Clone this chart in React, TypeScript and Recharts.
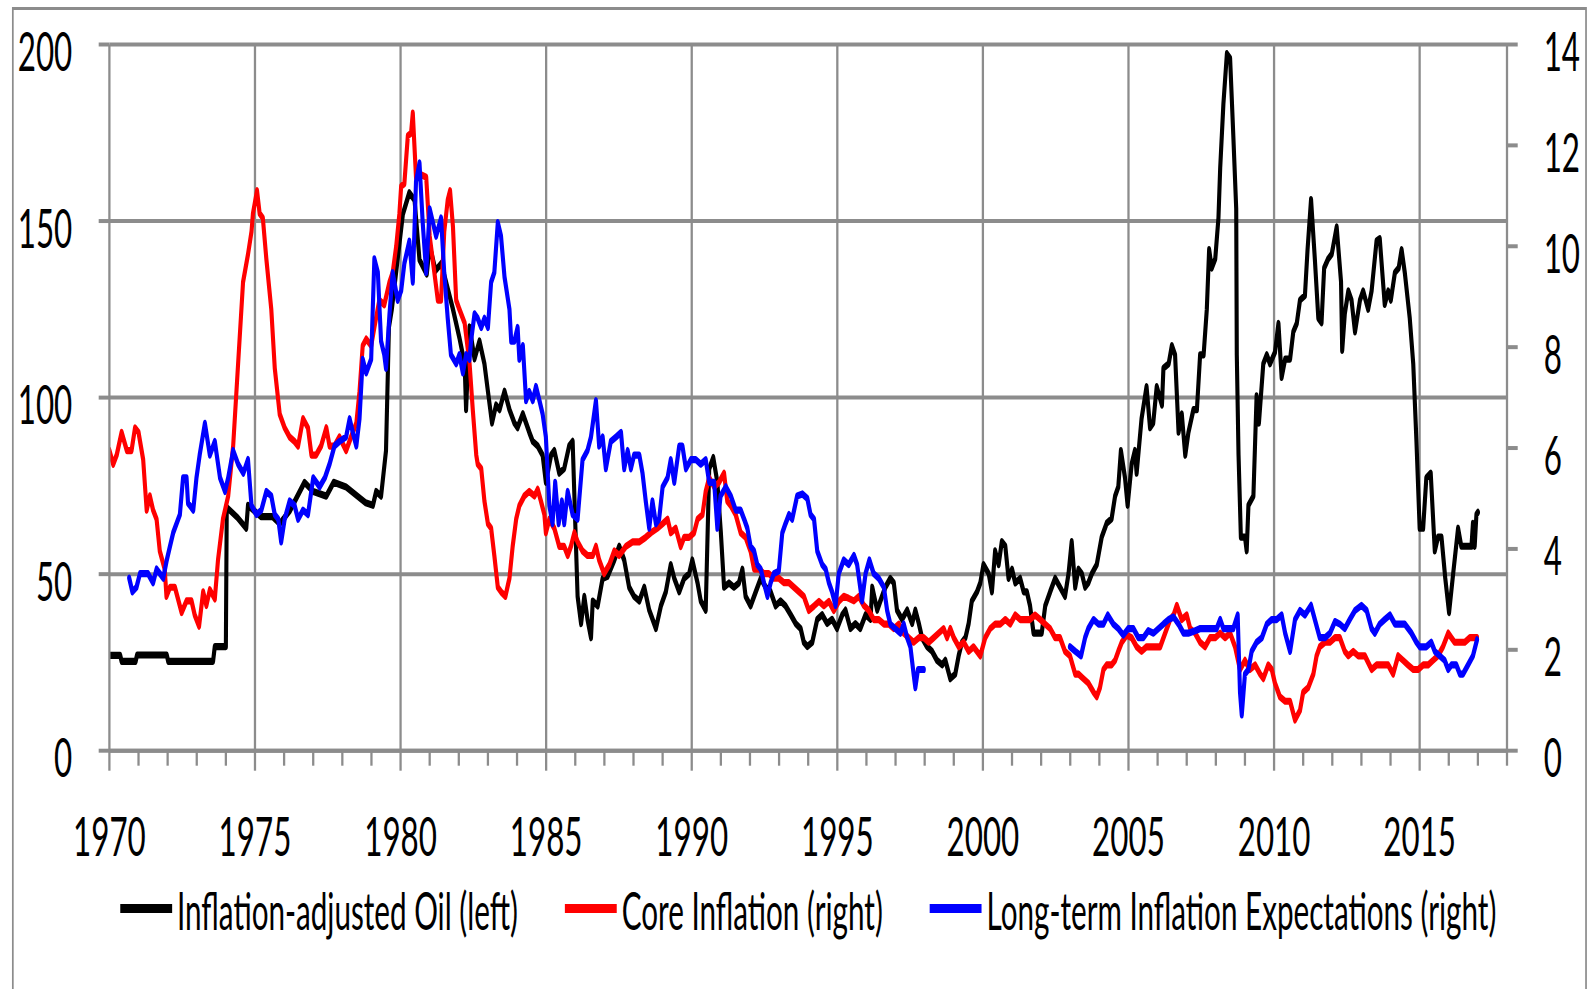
import React from "react";
import { LineChart, Line, XAxis, YAxis, CartesianGrid, ReferenceLine } from "recharts";

// the source picture is squeezed horizontally, so the chart is drawn wider and scaled back
const S = 0.57;
const W = 1589;
const H = 989;
const WT = W / S;
const GRID = "#8c8c8c";
const GRID_W = 4;
const FONT = "Lato, 'Open Sans', sans-serif";

const majorYears = [1975, 1980, 1985, 1990, 1995, 2000, 2005, 2010, 2015];
const yearTicks = Array.from({ length: 49 }, (_, i) => 1970 + i);
const leftTicks = [0, 50, 100, 150, 200];
const rightTicks = [0, 2, 4, 6, 8, 10, 12, 14];

// inflation-adjusted oil price, left axis
const oil: [number, number][] = [
  [1970.0, 27], [1970.37, 27], [1970.42, 25.3], [1970.9, 25.3], [1970.95, 27.1], [1971.97, 27.1],
  [1972.02, 25.3], [1973.56, 25.3], [1973.62, 29.5], [1974.0, 29.5], [1974.03, 68.9], [1974.4, 66],
  [1974.7, 63], [1974.76, 69.5], [1975.2, 66.3], [1975.6, 66.3], [1975.85, 64.3], [1976.2, 68],
  [1976.7, 76], [1977.0, 73.4], [1977.45, 72.1], [1977.7, 76], [1978.13, 74.7], [1978.8, 70.2],
  [1979.05, 69.5], [1979.16, 73.4], [1979.33, 72.1], [1979.5, 85], [1979.6, 119.9], [1979.7, 125],
  [1980.08, 152], [1980.3, 158], [1980.48, 156], [1980.65, 139], [1980.9, 135], [1981.0, 143],
  [1981.2, 136], [1981.4, 138], [1981.6, 131.5], [1981.8, 125], [1982.02, 117], [1982.2, 109.6],
  [1982.25, 96.6], [1982.37, 120], [1982.54, 111], [1982.71, 116], [1982.88, 109.6], [1983.0, 101.8],
  [1983.14, 92.8], [1983.28, 97.9], [1983.4, 96.6], [1983.57, 101.8], [1983.74, 96.6], [1983.91, 92.8],
  [1984.02, 91.5], [1984.2, 95.4], [1984.42, 90.2], [1984.54, 87.6], [1984.71, 86.3], [1984.88, 83.7],
  [1984.99, 76], [1985.17, 83.7], [1985.28, 85], [1985.45, 78.6], [1985.62, 79.9], [1985.79, 86.3],
  [1985.91, 87.6], [1986.08, 43.7], [1986.2, 36], [1986.31, 43.7], [1986.42, 37.2], [1986.54, 32],
  [1986.6, 42.4], [1986.77, 41], [1986.94, 48.8], [1987.11, 49.4], [1987.34, 54], [1987.51, 57.9],
  [1987.68, 54], [1987.85, 46.3], [1988.02, 43.7], [1988.2, 42.4], [1988.37, 46.3], [1988.54, 39.8],
  [1988.77, 34.6], [1988.94, 41], [1989.11, 45], [1989.28, 52.7], [1989.4, 48.8], [1989.57, 45],
  [1989.74, 48.8], [1989.91, 50.1], [1990.02, 54], [1990.2, 47.5], [1990.31, 42.4], [1990.48, 39.8],
  [1990.6, 79.8], [1990.74, 83], [1990.88, 76], [1991.0, 61.8], [1991.11, 46.3], [1991.28, 47.5],
  [1991.45, 46.3], [1991.62, 47.5], [1991.74, 51.4], [1991.85, 43.7], [1992.02, 41], [1992.2, 45],
  [1992.37, 48.8], [1992.54, 46.3], [1992.71, 45], [1992.88, 41], [1993.05, 42.4], [1993.22, 41],
  [1993.4, 38.5], [1993.57, 36], [1993.74, 34.6], [1993.85, 30.7], [1993.97, 29.5], [1994.14, 30.7],
  [1994.31, 37.2], [1994.48, 38.5], [1994.65, 36], [1994.82, 37.2], [1994.99, 34.6], [1995.17, 38.5],
  [1995.28, 39.8], [1995.45, 34.6], [1995.62, 36], [1995.79, 34.6], [1995.97, 38.5], [1996.14, 37.2],
  [1996.2, 46.3], [1996.37, 39.8], [1996.48, 42.4], [1996.65, 46.3], [1996.82, 48.8], [1996.94, 47.5],
  [1997.05, 39.8], [1997.22, 37.2], [1997.4, 39.8], [1997.57, 36], [1997.68, 39.8], [1997.8, 36],
  [1997.91, 32], [1998.08, 29.5], [1998.25, 28.2], [1998.42, 25.6], [1998.6, 24.3], [1998.71, 25.6],
  [1998.88, 20.4], [1999.05, 21.7], [1999.17, 27], [1999.28, 30.7], [1999.4, 32], [1999.51, 36],
  [1999.62, 42.4], [1999.8, 45], [1999.91, 47.5], [2000.02, 52.7], [2000.2, 50.1], [2000.31, 45],
  [2000.42, 56.6], [2000.54, 52.7], [2000.65, 59.2], [2000.77, 57.9], [2000.88, 48.8], [2001.0, 51.4],
  [2001.11, 47.5], [2001.28, 48.8], [2001.4, 45], [2001.51, 45], [2001.62, 41], [2001.74, 33.3],
  [2002.02, 33.3], [2002.14, 41], [2002.31, 45], [2002.48, 48.8], [2002.65, 46.3], [2002.82, 43.7],
  [2002.94, 50.1], [2003.05, 59.2], [2003.17, 46.3], [2003.28, 51.4], [2003.4, 50.1], [2003.51, 46.3],
  [2003.62, 47.5], [2003.74, 50.1], [2003.91, 52.7], [2004.08, 60.5], [2004.25, 64.4], [2004.42, 65.7],
  [2004.54, 72.1], [2004.65, 74.7], [2004.74, 85], [2004.88, 77.3], [2004.97, 69.5], [2005.11, 81.2],
  [2005.22, 85], [2005.28, 78.6], [2005.45, 94.1], [2005.62, 103.1], [2005.74, 91.5], [2005.85, 92.8],
  [2005.97, 103.1], [2006.15, 97.9], [2006.2, 108.3], [2006.38, 109.6], [2006.49, 114.7], [2006.6, 112.1],
  [2006.72, 90.2], [2006.83, 95.4], [2006.95, 83.7], [2007.06, 90.2], [2007.23, 96.6], [2007.35, 96.6],
  [2007.46, 112.1], [2007.58, 112.1], [2007.69, 125], [2007.77, 141.9], [2007.86, 136.7], [2007.98, 139.3],
  [2008.09, 150.9], [2008.15, 165.1], [2008.26, 183.2], [2008.38, 197.4], [2008.49, 196.1], [2008.6, 174.2],
  [2008.7, 153.5], [2008.72, 112.1], [2008.78, 83.7], [2008.86, 60.5], [2009.0, 60.5], [2009.06, 56.6],
  [2009.12, 69.5], [2009.29, 72.1], [2009.4, 100.5], [2009.48, 92.8], [2009.63, 109.6], [2009.75, 112.1],
  [2009.86, 109.6], [2010.03, 112.8], [2010.15, 121], [2010.26, 105.7], [2010.38, 110.9], [2010.55, 110.9],
  [2010.66, 118.6], [2010.78, 121], [2010.89, 127.6], [2011.06, 128.9], [2011.15, 141.9], [2011.27, 156.1],
  [2011.4, 139.3], [2011.52, 122.5], [2011.63, 121.2], [2011.72, 136.7], [2011.86, 139.3], [2011.98, 140.6],
  [2012.15, 148.3], [2012.3, 132.8], [2012.34, 113.4], [2012.43, 123.8], [2012.55, 130.2], [2012.66, 127.6],
  [2012.78, 118.6], [2012.95, 127.6], [2013.06, 130.2], [2013.23, 125], [2013.35, 130.2], [2013.52, 144.4],
  [2013.63, 145], [2013.8, 126.4], [2013.92, 130.2], [2014.01, 127.6], [2014.15, 135.4], [2014.28, 136.7],
  [2014.38, 141.9], [2014.49, 135.4], [2014.66, 122.5], [2014.78, 109.6], [2014.89, 87.6], [2015.0, 63],
  [2015.12, 63], [2015.23, 77.3], [2015.38, 78.6], [2015.52, 56.6], [2015.63, 60.5], [2015.75, 60.5],
  [2015.88, 48.8], [2016.01, 39.1], [2016.15, 50.1], [2016.32, 63], [2016.43, 57.9], [2016.6, 57.9],
  [2016.78, 57.9], [2016.83, 64.4], [2016.89, 57.9], [2016.95, 66.9], [2017.0, 67.5],
];

// core inflation, right axis
const core: [number, number][] = [
  [1970.0, 5.95], [1970.13, 5.68], [1970.25, 5.86], [1970.42, 6.31], [1970.6, 5.95], [1970.76, 5.95],
  [1970.88, 6.4], [1971.0, 6.31], [1971.16, 5.77], [1971.28, 4.77], [1971.39, 5.05], [1971.5, 4.77],
  [1971.62, 4.59], [1971.73, 3.96], [1971.9, 3.6], [1971.96, 3.06], [1972.08, 3.24], [1972.25, 3.24],
  [1972.48, 2.74], [1972.65, 2.97], [1972.82, 2.97], [1972.93, 2.69], [1973.08, 2.47], [1973.22, 3.15],
  [1973.33, 2.88], [1973.45, 3.19], [1973.62, 3.01], [1973.73, 3.78], [1973.9, 4.59], [1974.08, 5.05],
  [1974.25, 6.04], [1974.42, 7.67], [1974.59, 9.29], [1974.76, 9.84], [1974.88, 10.29], [1974.93, 10.65],
  [1975.07, 11.1], [1975.16, 10.65], [1975.27, 10.56], [1975.39, 9.75], [1975.56, 8.75], [1975.68, 7.58],
  [1975.85, 6.67], [1976.02, 6.4], [1976.19, 6.22], [1976.36, 6.13], [1976.48, 6.04], [1976.65, 6.58],
  [1976.82, 6.4], [1976.94, 5.86], [1977.1, 5.86], [1977.27, 6.04], [1977.45, 6.4], [1977.56, 6.04],
  [1977.73, 6.04], [1977.9, 6.22], [1978.13, 5.95], [1978.3, 6.22], [1978.48, 6.49], [1978.59, 7.12],
  [1978.7, 8.03], [1978.82, 8.16], [1978.99, 8.03], [1979.1, 8.39], [1979.27, 8.93], [1979.44, 8.84],
  [1979.62, 9.29], [1979.73, 9.48], [1979.85, 10.0], [1979.96, 10.65], [1980.02, 11.19], [1980.13, 11.24],
  [1980.25, 12.19], [1980.36, 12.24], [1980.42, 12.64], [1980.53, 11.37], [1980.7, 11.42], [1980.88, 11.37],
  [1981.0, 10.2], [1981.16, 9.48], [1981.28, 8.93], [1981.39, 8.93], [1981.5, 10.29], [1981.62, 10.92],
  [1981.7, 11.1], [1981.8, 10.38], [1981.91, 8.93], [1982.02, 8.75], [1982.2, 8.48], [1982.37, 7.67],
  [1982.48, 6.76], [1982.6, 5.86], [1982.65, 5.68], [1982.77, 5.59], [1982.88, 4.95], [1983.0, 4.5],
  [1983.11, 4.41], [1983.22, 3.87], [1983.34, 3.24], [1983.45, 3.15], [1983.6, 3.06], [1983.74, 3.42],
  [1983.85, 4.05], [1983.97, 4.59], [1984.08, 4.86], [1984.25, 5.05], [1984.42, 5.14], [1984.6, 5.05],
  [1984.71, 5.18], [1984.82, 4.95], [1984.94, 4.68], [1984.99, 4.32], [1985.11, 4.59], [1985.28, 4.41],
  [1985.45, 4.05], [1985.62, 4.05], [1985.74, 3.87], [1985.85, 4.05], [1985.97, 4.32], [1986.08, 4.14],
  [1986.25, 3.96], [1986.42, 3.87], [1986.6, 3.87], [1986.71, 4.05], [1986.82, 3.78], [1986.99, 3.51],
  [1987.17, 3.69], [1987.34, 3.96], [1987.51, 3.87], [1987.74, 4.05], [1987.97, 4.14], [1988.2, 4.14],
  [1988.42, 4.23], [1988.6, 4.32], [1988.82, 4.41], [1989.0, 4.5], [1989.17, 4.59], [1989.28, 4.32],
  [1989.45, 4.41], [1989.62, 4.05], [1989.74, 4.23], [1989.91, 4.23], [1990.08, 4.32], [1990.2, 4.59],
  [1990.37, 4.68], [1990.48, 5.14], [1990.6, 5.41], [1990.77, 5.23], [1990.94, 5.32], [1991.11, 5.5],
  [1991.22, 4.95], [1991.34, 4.86], [1991.51, 4.68], [1991.68, 4.32], [1991.85, 4.23], [1992.02, 3.96],
  [1992.14, 3.6], [1992.31, 3.6], [1992.48, 3.51], [1992.65, 3.51], [1992.82, 3.42], [1992.99, 3.42],
  [1993.17, 3.33], [1993.34, 3.33], [1993.51, 3.24], [1993.68, 3.15], [1993.85, 3.06], [1994.02, 2.78],
  [1994.2, 2.87], [1994.37, 2.96], [1994.54, 2.87], [1994.71, 2.96], [1994.88, 2.78], [1995.05, 2.96],
  [1995.22, 3.06], [1995.39, 3.02], [1995.57, 2.97], [1995.74, 3.06], [1995.91, 2.88], [1996.08, 2.78],
  [1996.25, 2.6], [1996.42, 2.6], [1996.6, 2.51], [1996.77, 2.51], [1996.94, 2.42], [1997.11, 2.51],
  [1997.28, 2.33], [1997.45, 2.24], [1997.62, 2.15], [1997.8, 2.24], [1997.97, 2.24], [1998.14, 2.15],
  [1998.31, 2.24], [1998.48, 2.33], [1998.65, 2.42], [1998.77, 2.24], [1998.88, 2.42], [1999.0, 2.24],
  [1999.17, 2.06], [1999.34, 2.15], [1999.51, 1.97], [1999.68, 2.06], [1999.91, 1.88], [2000.08, 2.24],
  [2000.25, 2.42], [2000.42, 2.51], [2000.6, 2.51], [2000.77, 2.6], [2000.94, 2.51], [2001.11, 2.69],
  [2001.28, 2.6], [2001.45, 2.6], [2001.62, 2.6], [2001.79, 2.69], [2001.97, 2.6], [2002.14, 2.51],
  [2002.31, 2.42], [2002.48, 2.24], [2002.65, 2.24], [2002.82, 1.97], [2002.99, 1.88], [2003.17, 1.52],
  [2003.28, 1.52], [2003.45, 1.43], [2003.62, 1.34], [2003.8, 1.16], [2003.91, 1.07], [2004.02, 1.25],
  [2004.14, 1.61], [2004.25, 1.7], [2004.42, 1.7], [2004.54, 1.79], [2004.65, 1.97], [2004.77, 2.15],
  [2004.94, 2.29], [2005.11, 2.24], [2005.28, 2.06], [2005.45, 1.97], [2005.62, 2.06], [2005.8, 2.06],
  [2006.09, 2.06], [2006.26, 2.33], [2006.43, 2.6], [2006.55, 2.69], [2006.66, 2.88], [2006.83, 2.6],
  [2007.0, 2.69], [2007.12, 2.42], [2007.29, 2.33], [2007.46, 2.15], [2007.63, 2.06], [2007.8, 2.24],
  [2007.98, 2.24], [2008.15, 2.33], [2008.32, 2.24], [2008.49, 2.33], [2008.66, 2.06], [2008.83, 1.61],
  [2009.0, 1.79], [2009.17, 1.61], [2009.35, 1.7], [2009.52, 1.52], [2009.63, 1.43], [2009.8, 1.7],
  [2009.92, 1.61], [2010.03, 1.34], [2010.2, 1.07], [2010.38, 0.98], [2010.55, 0.98], [2010.72, 0.61],
  [2010.89, 0.8], [2011.0, 1.16], [2011.17, 1.25], [2011.35, 1.52], [2011.46, 1.88], [2011.57, 2.06],
  [2011.75, 2.15], [2011.92, 2.15], [2012.09, 2.24], [2012.26, 2.24], [2012.43, 1.97], [2012.55, 1.88],
  [2012.72, 1.97], [2012.89, 1.88], [2013.12, 1.88], [2013.35, 1.61], [2013.52, 1.7], [2013.69, 1.7],
  [2013.92, 1.7], [2014.09, 1.52], [2014.26, 1.88], [2014.43, 1.79], [2014.6, 1.7], [2014.78, 1.61],
  [2014.95, 1.61], [2015.12, 1.7], [2015.29, 1.7], [2015.46, 1.79], [2015.63, 1.88], [2015.8, 2.06],
  [2015.98, 2.33], [2016.09, 2.24], [2016.2, 2.15], [2016.38, 2.15], [2016.55, 2.15], [2016.72, 2.24],
  [2016.89, 2.24], [2016.97, 2.24],
];

// long-term inflation expectations, right axis (no data 1998-2002)
const expect: [number, number | null][] = [
  [1970.68, 3.42], [1970.79, 3.15], [1970.93, 3.24], [1971.05, 3.51], [1971.33, 3.51], [1971.5, 3.33],
  [1971.62, 3.6], [1971.85, 3.42], [1971.97, 3.78], [1972.08, 4.05], [1972.19, 4.32], [1972.42, 4.68],
  [1972.53, 5.41], [1972.65, 5.41], [1972.7, 4.91], [1972.88, 4.77], [1972.99, 5.41], [1973.1, 5.86],
  [1973.28, 6.49], [1973.45, 5.86], [1973.62, 6.13], [1973.8, 5.41], [1973.97, 5.14], [1974.08, 5.41],
  [1974.25, 5.95], [1974.42, 5.68], [1974.6, 5.5], [1974.76, 5.77], [1974.88, 4.86], [1975.05, 4.68],
  [1975.22, 4.77], [1975.39, 5.14], [1975.56, 5.05], [1975.68, 4.68], [1975.8, 4.59], [1975.9, 4.14],
  [1976.02, 4.59], [1976.19, 4.95], [1976.36, 4.86], [1976.48, 4.59], [1976.65, 4.77], [1976.82, 4.68],
  [1977.0, 5.41], [1977.22, 5.23], [1977.4, 5.41], [1977.56, 5.68], [1977.73, 6.04], [1977.9, 6.13],
  [1978.13, 6.22], [1978.25, 6.58], [1978.36, 6.31], [1978.48, 6.04], [1978.59, 6.58], [1978.7, 7.76],
  [1978.82, 7.49], [1978.99, 7.76], [1979.1, 9.75], [1979.22, 9.48], [1979.33, 8.12], [1979.44, 7.85],
  [1979.5, 7.58], [1979.62, 8.66], [1979.73, 9.48], [1979.9, 8.93], [1980.02, 9.12], [1980.13, 9.66],
  [1980.3, 10.1], [1980.42, 9.29], [1980.53, 11.28], [1980.65, 11.65], [1980.76, 10.47], [1980.88, 9.48],
  [1981.0, 10.74], [1981.22, 10.2], [1981.39, 10.56], [1981.5, 9.48], [1981.62, 8.57], [1981.73, 7.85],
  [1981.91, 7.67], [1982.02, 7.85], [1982.14, 7.49], [1982.25, 7.85], [1982.37, 7.76], [1982.42, 8.12],
  [1982.54, 8.66], [1982.65, 8.57], [1982.77, 8.39], [1982.88, 8.57], [1983.0, 8.39], [1983.11, 9.29],
  [1983.22, 9.48], [1983.34, 10.47], [1983.45, 10.2], [1983.57, 9.39], [1983.74, 8.75], [1983.8, 8.12],
  [1983.91, 8.12], [1984.02, 8.39], [1984.08, 7.76], [1984.2, 8.03], [1984.31, 6.94], [1984.42, 7.12],
  [1984.54, 6.94], [1984.65, 7.22], [1984.77, 6.94], [1984.88, 6.67], [1984.99, 6.22], [1985.11, 4.86],
  [1985.22, 4.5], [1985.31, 5.32], [1985.43, 4.5], [1985.54, 4.95], [1985.62, 4.5], [1985.74, 5.14],
  [1985.91, 4.68], [1986.08, 4.59], [1986.25, 5.77], [1986.42, 5.95], [1986.54, 6.22], [1986.71, 6.94],
  [1986.82, 6.04], [1986.94, 6.22], [1987.05, 5.59], [1987.22, 6.13], [1987.4, 6.22], [1987.57, 6.31],
  [1987.68, 5.59], [1987.8, 5.95], [1987.91, 5.59], [1988.02, 5.86], [1988.2, 5.86], [1988.31, 5.5],
  [1988.42, 4.95], [1988.54, 4.41], [1988.65, 4.95], [1988.77, 4.5], [1988.88, 4.59], [1989.0, 5.23],
  [1989.17, 5.41], [1989.28, 5.77], [1989.4, 5.32], [1989.57, 6.04], [1989.68, 6.04], [1989.8, 5.59],
  [1989.97, 5.77], [1990.14, 5.77], [1990.31, 5.68], [1990.48, 5.77], [1990.6, 5.32], [1990.77, 5.32],
  [1990.88, 4.41], [1990.99, 5.05], [1991.17, 5.23], [1991.34, 5.05], [1991.51, 4.77], [1991.68, 4.77],
  [1991.8, 4.59], [1991.91, 4.41], [1992.02, 4.05], [1992.14, 3.96], [1992.25, 3.69], [1992.37, 3.6],
  [1992.48, 3.33], [1992.6, 3.06], [1992.71, 3.33], [1992.82, 3.51], [1992.99, 3.56], [1993.11, 4.32],
  [1993.22, 4.5], [1993.34, 4.68], [1993.45, 4.59], [1993.62, 5.05], [1993.8, 5.09], [1993.97, 5.0],
  [1994.08, 4.68], [1994.2, 4.59], [1994.31, 3.96], [1994.48, 3.69], [1994.6, 3.6], [1994.71, 3.33],
  [1994.82, 3.15], [1994.94, 2.88], [1995.05, 3.51], [1995.22, 3.78], [1995.39, 3.69], [1995.57, 3.87],
  [1995.68, 3.69], [1995.85, 2.97], [1995.97, 3.51], [1996.1, 3.78], [1996.25, 3.51], [1996.42, 3.42],
  [1996.6, 3.24], [1996.71, 2.78], [1996.82, 2.51], [1996.99, 2.42], [1997.17, 2.33], [1997.28, 2.51],
  [1997.4, 2.24], [1997.51, 2.06], [1997.62, 1.52], [1997.68, 1.25], [1997.77, 1.61], [1997.97, 1.61],
  [2000.0, null],
  [2002.99, 2.06], [2003.17, 1.97], [2003.37, 1.88], [2003.51, 2.24], [2003.62, 2.42], [2003.8, 2.6],
  [2003.97, 2.51], [2004.14, 2.51], [2004.29, 2.69], [2004.48, 2.51], [2004.65, 2.42], [2004.82, 2.29],
  [2004.99, 2.42], [2005.17, 2.42], [2005.34, 2.24], [2005.51, 2.24], [2005.68, 2.38], [2005.86, 2.33],
  [2006.03, 2.42], [2006.2, 2.51], [2006.38, 2.6], [2006.55, 2.65], [2006.72, 2.51], [2006.89, 2.33],
  [2007.06, 2.33], [2007.29, 2.38], [2007.46, 2.42], [2007.63, 2.42], [2007.86, 2.42], [2008.03, 2.42],
  [2008.15, 2.6], [2008.26, 2.42], [2008.43, 2.42], [2008.6, 2.42], [2008.75, 2.69], [2008.83, 1.16],
  [2008.89, 0.71], [2009.0, 1.52], [2009.12, 1.61], [2009.23, 1.97], [2009.4, 2.15], [2009.58, 2.24],
  [2009.75, 2.51], [2009.92, 2.6], [2010.09, 2.6], [2010.26, 2.69], [2010.38, 2.33], [2010.55, 1.97],
  [2010.72, 2.6], [2010.89, 2.78], [2011.06, 2.69], [2011.27, 2.88], [2011.4, 2.6], [2011.57, 2.24],
  [2011.75, 2.24], [2011.92, 2.33], [2012.09, 2.56], [2012.26, 2.51], [2012.43, 2.42], [2012.6, 2.6],
  [2012.78, 2.78], [2013.0, 2.88], [2013.18, 2.78], [2013.35, 2.42], [2013.46, 2.33], [2013.63, 2.51],
  [2013.8, 2.6], [2013.98, 2.69], [2014.15, 2.51], [2014.32, 2.51], [2014.49, 2.51], [2014.72, 2.33],
  [2014.89, 2.15], [2015.0, 2.06], [2015.23, 2.06], [2015.4, 2.15], [2015.52, 1.97], [2015.69, 1.88],
  [2015.86, 1.79], [2015.98, 1.61], [2016.09, 1.7], [2016.26, 1.7], [2016.38, 1.52], [2016.49, 1.52],
  [2016.66, 1.7], [2016.83, 1.88], [2016.97, 2.2],
];

const rows = (pts: [number, number | null][]) => pts.map(([t, v]) => ({ t, v }));

const series = [
  { name: "Inflation-adjusted Oil (left)", color: "#000000", axis: "left", data: rows(oil) },
  { name: "Core Inflation (right)", color: "#ff0000", axis: "right", data: rows(core) },
  { name: "Long-term Inflation Expectations (right)", color: "#0000ff", axis: "right", data: rows(expect) },
];

// layout, in real pixels
const PLOT_LEFT = 109.4;
const PLOT_RIGHT = 1507;
const PLOT_TOP = 44.5;
const PLOT_BOTTOM = 750.7;
const X_AXIS_H = 60;

function XTick({ x, y, payload }: any) {
  const yr = payload.value;
  const major = yr % 5 === 0;
  return (
    <g>
      <line x1={x} x2={x} y1={y} y2={y + (major ? 20 : 15)} stroke={GRID} strokeWidth={GRID_W} />
      {major && yr <= 2015 && (
        <text x={x} y={y + 105} textAnchor="middle" fontSize={55} fontFamily={FONT} fill="#000">
          {yr}
        </text>
      )}
    </g>
  );
}

function YTick({ x, y, payload, textAnchor }: any) {
  return (
    <text x={x} y={y + 26.5} textAnchor={textAnchor} fontSize={55} fontFamily={FONT} fill="#000">
      {payload.value}
    </text>
  );
}

export default function App() {
  const leftW = PLOT_LEFT / S;
  const rightW = WT - PLOT_RIGHT / S;
  return (
    <div style={{ position: "absolute", left: 0, top: 0, width: W, height: H, overflow: "hidden", background: "#fff" }}>
      <div
        style={{
          position: "relative",
          width: WT,
          height: H,
          transform: `scaleX(${S})`,
          transformOrigin: "0 0",
          fontFamily: FONT,
        }}
      >
        <div
          style={{
            position: "absolute",
            left: 12 / S,
            top: 7,
            width: (1587 - 12) / S,
            height: 1100,
            border: `3.5px solid ${GRID}`,
            boxSizing: "border-box",
          }}
        />
        <LineChart
          width={WT}
          height={H}
          margin={{ top: PLOT_TOP, right: 0, bottom: H - PLOT_BOTTOM - X_AXIS_H, left: 0 }}
        >
          <CartesianGrid yAxisId="left" vertical={false} stroke={GRID} strokeWidth={GRID_W} />
          <XAxis
            dataKey="t"
            type="number"
            domain={[1970, 2018]}
            ticks={yearTicks}
            interval={0}
            allowDataOverflow
            height={X_AXIS_H}
            tickSize={0}
            tickMargin={0}
            tickLine={false}
            axisLine={{ stroke: GRID, strokeWidth: GRID_W }}
            tick={<XTick />}
          />
          <YAxis
            yAxisId="left"
            orientation="left"
            domain={[0, 200]}
            ticks={leftTicks}
            interval={0}
            width={leftW}
            tickSize={18.8}
            tickMargin={46.3}
            tickLine={{ stroke: GRID, strokeWidth: GRID_W }}
            axisLine={{ stroke: GRID, strokeWidth: GRID_W }}
            tick={<YTick />}
          />
          <YAxis
            yAxisId="right"
            orientation="right"
            domain={[0, 14]}
            ticks={rightTicks}
            interval={0}
            width={rightW}
            tickSize={18.8}
            tickMargin={45.6}
            tickLine={{ stroke: GRID, strokeWidth: GRID_W }}
            axisLine={{ stroke: GRID, strokeWidth: GRID_W }}
            tick={<YTick />}
          />
          {majorYears.map((yr) => (
            <ReferenceLine key={yr} x={yr} yAxisId="left" stroke={GRID} strokeWidth={GRID_W} />
          ))}
          {series.map((s) => (
            <Line
              key={s.name}
              yAxisId={s.axis}
              data={s.data}
              dataKey="v"
              name={s.name}
              type="linear"
              stroke={s.color}
              strokeWidth={7.2}
              strokeLinejoin="round"
              strokeLinecap="round"
              dot={false}
              activeDot={false}
              isAnimationActive={false}
            />
          ))}
        </LineChart>
        <div
          style={{
            position: "absolute",
            left: PLOT_LEFT / S,
            width: (PLOT_RIGHT - PLOT_LEFT) / S,
            top: 885,
            display: "flex",
            justifyContent: "center",
            gap: 82,
            fontSize: 52,
            lineHeight: "50px",
            whiteSpace: "nowrap",
            color: "#000",
          }}
        >
          {series.map((s) => (
            <div key={s.name} style={{ display: "flex", alignItems: "center" }}>
              <span
                style={{
                  display: "inline-block",
                  width: 91,
                  height: 9,
                  background: s.color,
                  marginRight: 9,
                  position: "relative",
                  top: -2,
                }}
              />
              <span>{s.name}</span>
            </div>
          ))}
        </div>
      </div>
    </div>
  );
}
